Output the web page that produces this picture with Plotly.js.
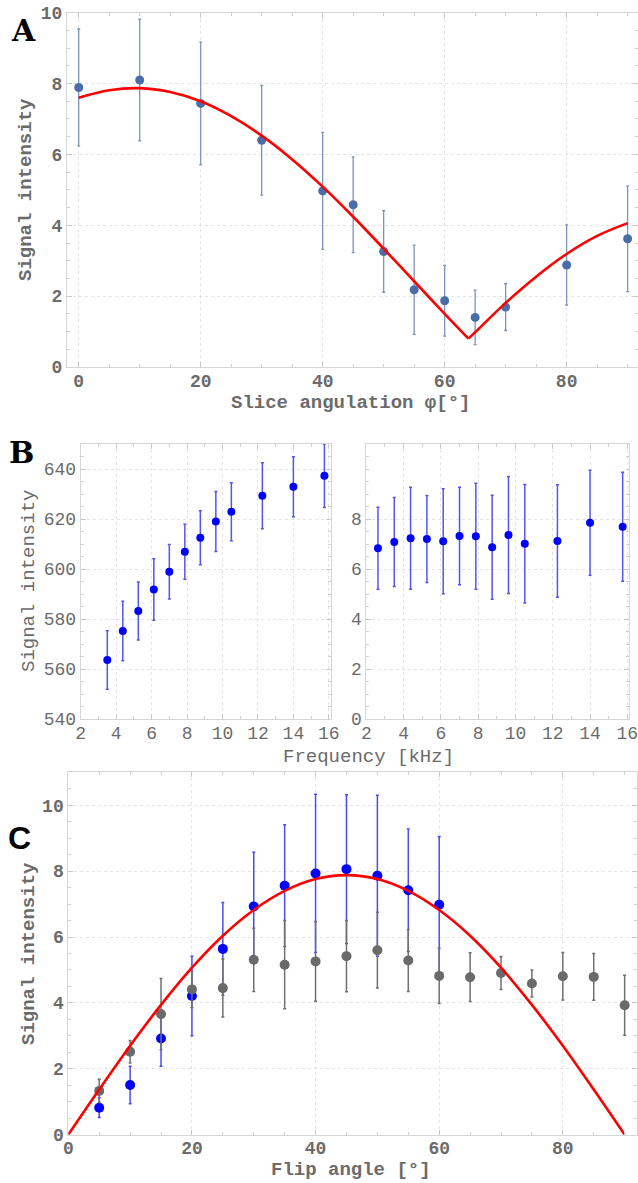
<!DOCTYPE html>
<html>
<head>
<meta charset="utf-8">
<script src="https://cdn.plot.ly/plotly-3.0.1.min.js"></script>
<style>html,body{margin:0;padding:0;background:#fff;}#chart{width:638px;height:1183px;}</style>
</head>
<body>
<div id="chart"></div>
<script>
// ---------- Panel A data ----------
var angA = [0, 10, 20, 30, 40, 45, 50, 55, 60, 65, 70, 80, 90];
var sigA = [7.89, 8.10, 7.44, 6.40, 4.97, 4.58, 3.26, 2.18, 1.87, 1.40, 1.69, 2.88, 3.62];
var errA = [1.65, 1.72, 1.73, 1.55, 1.65, 1.35, 1.15, 1.26, 1.00, 0.77, 0.66, 1.13, 1.49];
var fitAx = [0, 5, 10, 15, 20, 25, 30, 35, 40, 45, 50, 55, 60, 63.9, 65, 70, 75, 80, 85, 90];
var fitAy = [7.60, 7.81, 7.87, 7.76, 7.50, 7.08, 6.53, 5.86, 5.09, 4.24, 3.34, 2.42, 1.50, 0.80, 0.98, 1.81, 2.55, 3.19, 3.70, 4.06];
var fitAminIdx = 13;

// ---------- Panel B data ----------
var freqB1 = [3.5, 4.375, 5.25, 6.125, 7.0, 7.875, 8.75, 9.625, 10.5, 12.25, 14.0, 15.75];
var sigB1 = [563.6, 575.2, 583.2, 591.8, 598.9, 606.9, 612.5, 619.0, 622.9, 629.3, 632.9, 637.3];
var errB1 = [11.7, 11.9, 11.6, 12.3, 10.9, 11.0, 10.8, 12.0, 11.6, 13.2, 12.0, 12.7];
var freqB2 = [2.625, 3.5, 4.375, 5.25, 6.125, 7.0, 7.875, 8.75, 9.625, 10.5, 12.25, 14.0, 15.75];
var sigB2 = [6.83, 7.08, 7.23, 7.20, 7.11, 7.32, 7.31, 6.87, 7.36, 7.01, 7.12, 7.85, 7.69];
var errB2 = [1.64, 1.78, 2.04, 1.74, 2.10, 1.95, 2.12, 2.08, 2.34, 2.37, 2.25, 2.10, 2.18];

// ---------- Panel C data ----------
var angCgray = [5, 10, 15, 20, 25, 30, 35, 40, 45, 50, 55, 60, 65, 70, 75, 80, 85, 90];
var sigCgray = [1.33, 2.52, 3.66, 4.41, 4.45, 5.31, 5.16, 5.26, 5.42, 5.60, 5.29, 4.82, 4.78, 4.91, 4.59, 4.81, 4.79, 3.93];
var errCgray = [0.35, 0.34, 1.08, 0.55, 0.88, 0.96, 1.34, 1.21, 1.08, 1.15, 0.94, 0.84, 0.74, 0.50, 0.41, 0.72, 0.71, 0.91];
var angCblue = [5, 10, 15, 20, 25, 30, 35, 40, 45, 50, 55, 60];
var sigCblue = [0.82, 1.51, 2.92, 4.21, 5.64, 6.93, 7.56, 7.93, 8.06, 7.86, 7.42, 6.98];
var errCblue = [0.30, 0.57, 0.84, 1.21, 1.41, 1.64, 1.85, 2.40, 2.26, 2.44, 1.86, 2.07];
var fitCx = [0, 5, 10, 15, 20, 25, 30, 35, 40, 45, 50, 55, 60, 65, 70, 75, 80, 85, 90];
var fitCy = [0, 1.37, 2.70, 3.94, 5.07, 6.04, 6.82, 7.40, 7.76, 7.88, 7.76, 7.40, 6.82, 6.04, 5.07, 3.94, 2.70, 1.37, 0];

// ---------- helpers ----------
var W = 638, H = 1183;
function px(x) { return x / W; }
function py(y) { return 1 - y / H; }
var GRAY = '#6b6b6b';
var MONO = 'Nimbus Mono PS, Courier New, Liberation Mono, monospace';

function axisStyle(extra, bold) {
  var a = {
    showline: true, linecolor: '#d6d6d6', linewidth: 1, mirror: 'ticks',
    ticks: 'inside', ticklen: 5, tickcolor: '#c8c8c8', tickwidth: 1,
    showgrid: true, gridcolor: '#e4e4e4', griddash: 'dot', gridwidth: 1,
    zeroline: false, fixedrange: true, ticklabeloverflow: 'allow',
    tickfont: {family: MONO, size: 18, color: GRAY, weight: bold ? 'bold' : 'normal'}
  };
  for (var k in extra) a[k] = extra[k];
  return a;
}

var traces = [];
// Panel A
traces.push({
  x: angA, y: sigA, type: 'scatter', mode: 'markers', xaxis: 'x', yaxis: 'y',
  marker: {color: '#4a6ca8', size: 9},
  error_y: {type: 'data', array: errA, visible: true, color: '#7d93bf', thickness: 1.3, width: 1.5}
});
traces.push({
  x: fitAx.slice(0, fitAminIdx + 1), y: fitAy.slice(0, fitAminIdx + 1), type: 'scatter', mode: 'lines',
  xaxis: 'x', yaxis: 'y', line: {color: '#ff0000', width: 2.6, shape: 'spline'}
});
traces.push({
  x: fitAx.slice(fitAminIdx), y: fitAy.slice(fitAminIdx), type: 'scatter', mode: 'lines',
  xaxis: 'x', yaxis: 'y', line: {color: '#ff0000', width: 2.6, shape: 'spline'}
});
// Panel B
traces.push({
  x: freqB1, y: sigB1, type: 'scatter', mode: 'markers', xaxis: 'x2', yaxis: 'y2',
  marker: {color: '#0000ff', size: 8},
  error_y: {type: 'data', array: errB1, visible: true, color: '#5555ee', thickness: 1.5, width: 1.5}
});
traces.push({
  x: freqB2, y: sigB2, type: 'scatter', mode: 'markers', xaxis: 'x3', yaxis: 'y3',
  marker: {color: '#0000ff', size: 8},
  error_y: {type: 'data', array: errB2, visible: true, color: '#5555ee', thickness: 1.5, width: 1.5}
});
// Panel C
traces.push({
  x: angCblue, y: sigCblue, type: 'scatter', mode: 'markers', xaxis: 'x4', yaxis: 'y4',
  marker: {color: '#0000ff', size: 10},
  error_y: {type: 'data', array: errCblue, visible: true, color: '#4b4bf0', thickness: 1.5, width: 1.5}
});
traces.push({
  x: angCgray, y: sigCgray, type: 'scatter', mode: 'markers', xaxis: 'x4', yaxis: 'y4',
  marker: {color: '#6a6a6a', size: 10},
  error_y: {type: 'data', array: errCgray, visible: true, color: '#707070', thickness: 1.5, width: 1.5}
});
traces.push({
  x: fitCx, y: fitCy, type: 'scatter', mode: 'lines', xaxis: 'x4', yaxis: 'y4',
  line: {color: '#ff0000', width: 2.6, shape: 'spline'}
});

var titleFont = function (bold) { return {family: MONO, size: 19, color: GRAY, weight: bold ? 'bold' : 'normal'}; };
function ann(text, x, y, font, angle) {
  var a = {text: text, x: px(x), y: py(y), xref: 'paper', yref: 'paper', showarrow: false,
           xanchor: 'center', yanchor: 'middle', font: font};
  if (angle !== undefined) a.textangle = angle;
  return a;
}
var annotations = [
  ann('A', 23, 31, {family: 'DejaVu Serif, serif', size: 30, color: '#000', weight: 'bold'}),
  ann('B', 21, 452, {family: 'DejaVu Serif, serif', size: 30, color: '#000', weight: 'bold'}),
  ann('C', 20, 838, {family: 'Liberation Sans, Arial, sans-serif', size: 32, color: '#000', weight: 'bold'}),
  ann('Signal intensity', 26, 190, titleFont(true), -90),
  ann('Slice angulation φ[°]', 350, 403, titleFont(true)),
  ann('Signal intensity', 29, 581, titleFont(false), -90),
  ann('Frequency [kHz]', 368, 757, titleFont(false)),
  ann('Signal intensity', 29, 954, titleFont(true), -90),
  ann('Flip angle [°]', 351, 1170, titleFont(true))
];

var xMinor = function (d) { return {dtick: d, ticks: 'inside', ticklen: 3, tickcolor: '#d0d0d0', showgrid: false}; };
var layout = {
  width: W, height: H, margin: {l: 0, r: 0, t: 0, b: 0},
  paper_bgcolor: '#fff', plot_bgcolor: '#fff', showlegend: false,
  xaxis: axisStyle({domain: [px(67), 1], range: [-1.92, 91.7], anchor: 'y', tickvals: [0, 20, 40, 60, 80],
    ticklabelstandoff: -3, minor: xMinor(5)}, true),
  yaxis: axisStyle({domain: [py(367), py(12.7)], range: [0, 10], anchor: 'x', tickvals: [0, 2, 4, 6, 8, 10],
    minor: xMinor(0.5)}, true),
  xaxis2: axisStyle({domain: [px(80.7), px(330.6)], range: [2, 16.1], anchor: 'y2', tickvals: [2, 4, 6, 8, 10, 12, 14, 16],
    ticklabelstandoff: -3, minor: xMinor(1)}, false),
  yaxis2: axisStyle({domain: [py(719), py(444)], range: [540, 650], anchor: 'x2', tickvals: [540, 560, 580, 600, 620, 640],
    minor: xMinor(5)}, false),
  xaxis3: axisStyle({domain: [px(366.3), px(629.2)], range: [2, 16.1], anchor: 'y3', tickvals: [2, 4, 6, 8, 10, 12, 14, 16],
    ticklabelstandoff: -3, minor: xMinor(1)}, false),
  yaxis3: axisStyle({domain: [py(719), py(444)], range: [0, 11], anchor: 'x3', tickvals: [0, 2, 4, 6, 8],
    minor: xMinor(0.5)}, false),
  xaxis4: axisStyle({domain: [px(68.3), px(637)], range: [0, 92], anchor: 'y4', tickvals: [0, 20, 40, 60, 80],
    ticklabelstandoff: -3, minor: xMinor(5)}, true),
  yaxis4: axisStyle({domain: [py(1134.7), py(772.3)], range: [0, 11], anchor: 'x4', tickvals: [0, 2, 4, 6, 8, 10],
    minor: xMinor(0.5)}, true),
  annotations: annotations
};

Plotly.newPlot('chart', traces, layout, {displayModeBar: false, staticPlot: true});
</script>
</body>
</html>
